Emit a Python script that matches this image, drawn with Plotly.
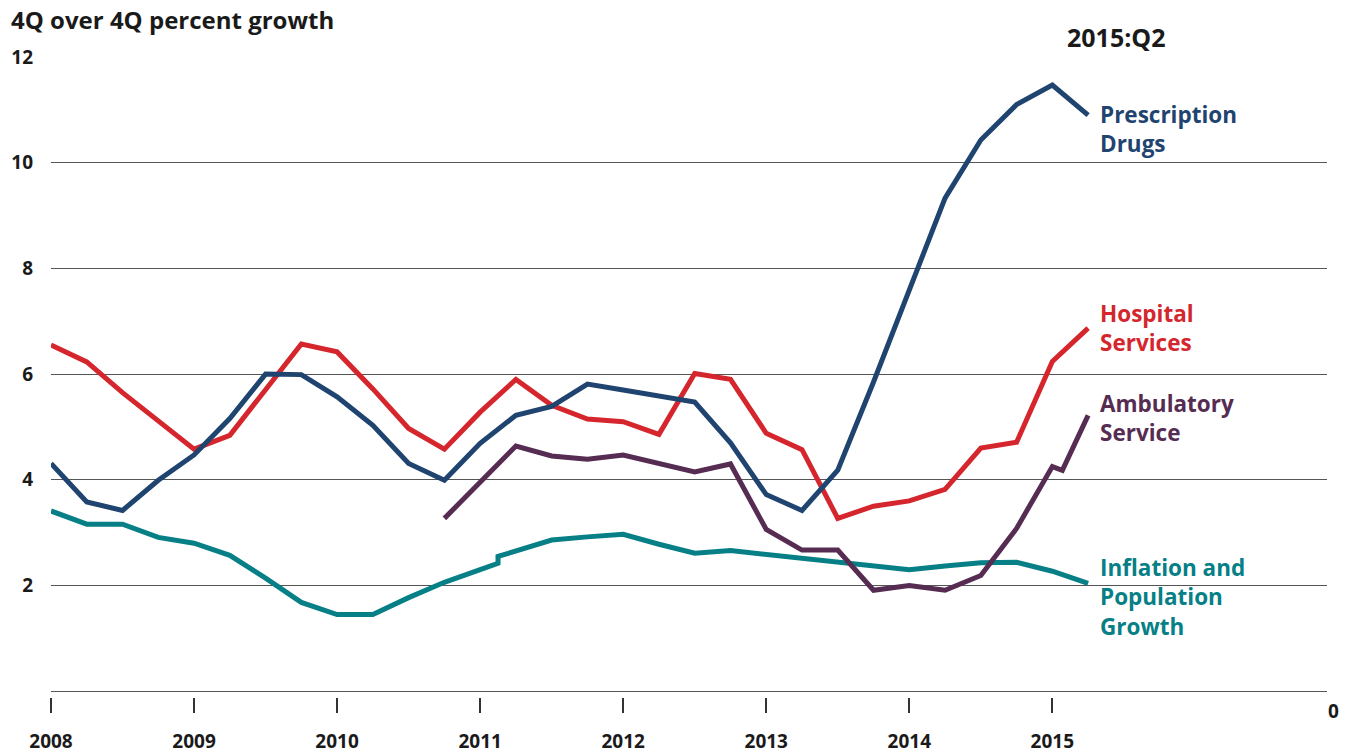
import plotly.graph_objects as go

# ---- data (4Q over 4Q percent growth), quarterly 2008Q1 .. 2015Q2 ----
quarters = [f"{y}Q{q}" for y in range(2008, 2016) for q in range(1, 5)][:30]

prescription = [4.31, 3.58, 3.42, 3.99, 4.47, 5.16, 6.00, 5.99,
                5.57, 5.03, 4.31, 3.99, 4.69, 5.22, 5.39, 5.81,
                5.70, 5.58, 5.47, 4.70, 3.72, 3.42, 4.18, 5.85,
                7.60, 9.33, 10.43, 11.10, 11.47, 10.90]

hospital = [6.55, 6.23, 5.65, 5.11, 4.58, 4.84, 5.70, 6.57,
            6.42, 5.72, 4.97, 4.58, 5.28, 5.90, 5.41, 5.15,
            5.10, 4.86, 6.01, 5.90, 4.88, 4.57, 3.27, 3.50,
            3.60, 3.82, 4.60, 4.71, 6.24, 6.87]

# Ambulatory series starts in 2010Q4
ambulatory_quarters = quarters[11:]
ambulatory = [3.27, 3.97, 4.64, 4.45, 4.39, 4.47, 4.30, 4.15,
              4.30, 3.06, 2.67, 2.67, 1.91, 2.00, 1.91, 2.19,
              3.08, 4.25, 5.22]
ambulatory_break = (2015.07, 4.18)   # small step right after 2015Q1

inflation = [3.41, 3.16, 3.16, 2.91, 2.80, 2.57, 2.14, 1.68,
             1.45, 1.45, 1.77, 2.06, 2.30, 2.65, 2.86, 2.92,
             2.97, 2.78, 2.61, 2.66, 2.59, 2.51, 2.44, 2.37,
             2.30, 2.37, 2.43, 2.44, 2.27, 2.04]
inflation_break = (2011.125, 2.42, 2.55)  # step in the series early 2011

year_ticks = [2008, 2009, 2010, 2011, 2012, 2013, 2014, 2015]
y_ticks = [2, 4, 6, 8, 10, 12]


def qpos(label):
    return int(label[:4]) + (int(label[-1]) - 1) / 4


xq = [qpos(q) for q in quarters]

# build series with the step breaks
infl_x = xq[:13] + [inflation_break[0], inflation_break[0]] + xq[13:]
infl_y = inflation[:13] + [inflation_break[1], inflation_break[2]] + inflation[13:]

amb_xq = [qpos(q) for q in ambulatory_quarters]
amb_x = amb_xq[:18] + [ambulatory_break[0]] + amb_xq[18:]
amb_y = ambulatory[:18] + [ambulatory_break[1]] + ambulatory[18:]

NAVY = "#1f4470"
RED = "#d5262e"
PURPLE = "#562c52"
TEAL = "#067f86"
LW = 5

fig = go.Figure()
fig.add_trace(go.Scatter(x=infl_x, y=infl_y, mode="lines",
                         line=dict(color=TEAL, width=LW), name="Inflation and Population Growth"))
fig.add_trace(go.Scatter(x=amb_x, y=amb_y, mode="lines",
                         line=dict(color=PURPLE, width=LW), name="Ambulatory Service"))
fig.add_trace(go.Scatter(x=xq, y=hospital, mode="lines",
                         line=dict(color=RED, width=LW), name="Hospital Services"))
fig.add_trace(go.Scatter(x=xq, y=prescription, mode="lines",
                         line=dict(color=NAVY, width=LW), name="Prescription Drugs"))

FONT = "Open Sans"
DARK = "#1a1a1a"
lab_font = dict(family=FONT, size=22.5, weight=700)

# plot area geometry (px) used to place paper-referenced texts
W, H = 1351, 754
ML, MR, MT, MB = 51, 24, 57, 57
PW, PH = W - ML - MR, H - MT - MB


def px_x(px):
    return (px - ML) / PW


def px_y(py):
    return (H - MB - py) / PH


labels = [
    ("Prescription<br>Drugs", 10.63, NAVY),
    ("Hospital<br>Services", 6.88, RED),
    ("Ambulatory<br>Service", 5.16, PURPLE),
    ("Inflation and<br>Population<br>Growth", 1.78, TEAL),
]
annotations = []
for text, yv, col in labels:
    annotations.append(dict(x=2015.32, y=yv, xref="x", yref="y", text=text,
                            showarrow=False, xanchor="left", yanchor="middle",
                            align="left", font=dict(lab_font, color=col)))

annotations.append(dict(x=px_x(9), y=px_y(20), xref="paper", yref="paper",
                        text="4Q over 4Q percent growth",
                        showarrow=False, xanchor="left", yanchor="middle",
                        font=dict(family=FONT, size=24, weight=700, color=DARK)))
annotations.append(dict(x=px_x(1116), y=px_y(37), xref="paper", yref="paper", text="2015:Q2",
                        showarrow=False, xanchor="center", yanchor="middle",
                        font=dict(family=FONT, size=25, weight=700, color=DARK)))
annotations.append(dict(x=px_x(1333), y=px_y(711), xref="paper", yref="paper", text="0",
                        showarrow=False, xanchor="center", yanchor="middle",
                        font=dict(family=FONT, size=19, weight=700, color=DARK)))

fig.update_layout(
    width=W, height=H,
    margin=dict(l=ML, r=MR, t=MT, b=MB, autoexpand=False),
    paper_bgcolor="white", plot_bgcolor="white",
    showlegend=False,
    annotations=annotations,
    xaxis=dict(range=[2008, 2016.92], tickvals=year_ticks,
               ticktext=[str(y) for y in year_ticks],
               showgrid=False, zeroline=False, showline=False, automargin=False,
               ticks="outside", ticklen=15, tickwidth=1.5, tickcolor="#333",
               ticklabelstandoff=12,
               tickfont=dict(family=FONT, size=19, weight=700, color=DARK)),
    yaxis=dict(range=[-0.11, 12], tickvals=y_ticks, automargin=False,
               showgrid=True, gridcolor="#555", gridwidth=1,
               zeroline=True, zerolinecolor="#555", zerolinewidth=1,
               showline=False, ticks="", ticklabelstandoff=17,
               tickfont=dict(family=FONT, size=19, weight=700, color=DARK)),
)

# remove the browser's default 8px page margin so the figure sits at (0, 0)
fig.write_html("out.html",
               config={"displayModeBar": False},
               post_script="document.body.style.margin='0';document.body.style.overflow='hidden';")
